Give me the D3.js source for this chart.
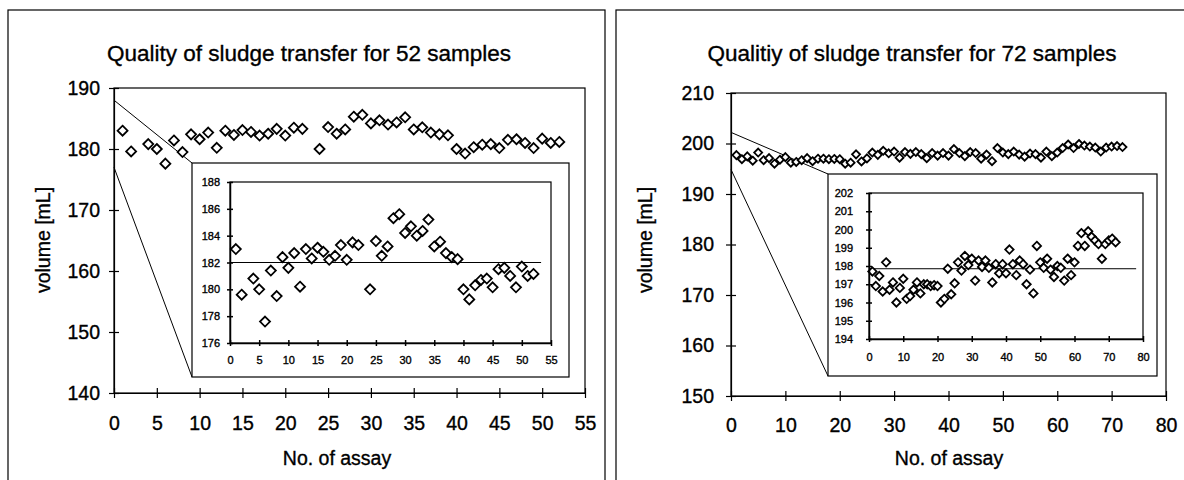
<!DOCTYPE html>
<html>
<head>
<meta charset="utf-8">
<script src="https://cdn.jsdelivr.net/npm/d3@7"></script>
<style>
  body { margin: 0; background: #fff; }
  svg text { font-family: Arial, "Liberation Sans", sans-serif; fill: #000; stroke: #000; stroke-width: 0.35px; }
</style>
</head>
<body>
<svg width="1184" height="480"></svg>
<script>
// ---- left chart: 52 samples ----
const leftTitle = "Quality of sludge transfer for 52 samples";
const leftAssay = [1, 2, 4, 5, 6, 7, 8, 9, 10, 11, 12, 13, 14, 15, 16, 17, 18, 19, 20, 21, 22,
  24, 25, 26, 27, 28, 29, 30, 31, 32, 33, 34, 35, 36, 37, 38, 39, 40, 41, 42, 43, 44, 45, 46,
  47, 48, 49, 50, 51, 52];
const leftVolume = [183.0, 179.6, 180.8, 180.0, 177.6, 181.4, 179.5, 182.4, 181.6, 182.7, 180.2,
  183.0, 182.3, 183.1, 182.8, 182.2, 182.5, 183.3, 182.2, 183.5, 183.3,
  180.0, 183.6, 182.5, 183.2, 185.3, 185.6, 184.2, 184.7, 184.0, 184.35, 185.2, 183.2, 183.55,
  182.7, 182.4, 182.25, 180.0, 179.25, 180.3, 180.7, 180.8, 180.15, 181.5, 181.6, 181.0,
  180.15, 181.7, 181.0, 181.15];
const leftMean = 182.0;
const leftMeanX = [0, 53.3];
const leftXTicks = [0, 5, 10, 15, 20, 25, 30, 35, 40, 45, 50, 55];
const leftYTicks = [140, 150, 160, 170, 180, 190];
const leftInsetYTicks = [176, 178, 180, 182, 184, 186, 188];
const leftZoom = [177, 188];   // y range the callout points at

// ---- right chart: 72 samples ----
const rightTitle = "Qualitiy of sludge transfer for 72 samples";
const rightAssay = d3.range(1, 73);
const rightVolume = [197.7, 196.9, 197.45, 196.6, 198.2, 196.7, 197.1, 196.0, 196.8, 197.3,
  196.2, 196.35, 196.7, 197.1, 196.5, 197.0, 197.0, 196.9, 196.95, 196.9,
  196.0, 196.2, 197.85, 196.45, 197.05, 198.2, 197.75, 198.55, 198.05, 198.4,
  197.2, 198.3, 197.95, 198.3, 197.9, 197.1, 198.1, 197.6, 198.1, 197.6,
  198.9, 198.1, 197.5, 198.3, 198.1, 197.0, 197.8, 196.5, 199.1, 198.2,
  197.9, 198.4, 197.8, 197.4, 198.0, 197.9, 197.2, 198.4, 197.5, 198.2,
  199.1, 199.8, 199.1, 199.9, 199.6, 199.4, 199.2, 198.4, 199.2, 199.4,
  199.5, 199.3];
const rightMean = 197.85;
const rightMeanX = [0, 78];
const rightXTicks = [0, 10, 20, 30, 40, 50, 60, 70, 80];
const rightYTicks = [150, 160, 170, 180, 190, 200, 210];
const rightInsetYTicks = [194, 195, 196, 197, 198, 199, 200, 201, 202];
const rightZoom = [194.85, 202.2];

const svg = d3.select("svg");

// diamond marker
const diamond = r => `M0,${-r}L${r},0L0,${r}L${-r},0Z`;

function crossTicks(g, horizontal, len) {
  g.selectAll(".tick line")
    .attr(horizontal ? "y1" : "x1", -len)
    .attr(horizontal ? "y2" : "x2", len);
}

function drawPanel(c) {
  const p = svg.append("g");

  // panel border
  p.append("rect")
    .attr("x", c.panel[0]).attr("y", c.panel[1])
    .attr("width", c.panel[2]).attr("height", c.panel[3])
    .attr("fill", "none").attr("stroke", "#000").attr("stroke-width", 1.2);

  p.append("text")
    .attr("x", c.titleX).attr("y", 61)
    .attr("text-anchor", "middle")
    .attr("font-size", 22.5)
    .text(c.title);

  // main scales
  const x = d3.scaleLinear().domain(c.xDomain).range([c.main[0], c.main[1]]);
  const y = d3.scaleLinear().domain(c.yDomain).range([c.main[3], c.main[2]]);

  p.append("rect")
    .attr("x", c.main[0]).attr("y", c.main[2])
    .attr("width", c.main[1] - c.main[0]).attr("height", c.main[3] - c.main[2])
    .attr("fill", "none").attr("stroke", "#000").attr("stroke-width", 1.2);

  // callout lines to inset box corners
  p.append("line")
    .attr("x1", x(0)).attr("y1", y(c.zoom[1]))
    .attr("x2", c.box[0]).attr("y2", c.box[2])
    .attr("stroke", "#000").attr("stroke-width", 1);
  p.append("line")
    .attr("x1", x(0)).attr("y1", y(c.zoom[0]))
    .attr("x2", c.box[0]).attr("y2", c.box[3])
    .attr("stroke", "#000").attr("stroke-width", 1);

  // main points
  p.append("g").selectAll("path")
    .data(c.assay)
    .join("path")
    .attr("transform", (d, i) => `translate(${x(d)},${y(c.volume[i])})`)
    .attr("d", diamond(c.r))
    .attr("fill", "#fff").attr("stroke", "#000").attr("stroke-width", 1.8);

  // main axes
  const gx = p.append("g")
    .attr("transform", `translate(0,${c.main[3]})`)
    .call(d3.axisBottom(x).tickValues(c.xTicks).tickSize(0).tickSizeOuter(0).tickPadding(c.xPad));
  crossTicks(gx, true, 5);
  const gy = p.append("g")
    .attr("transform", `translate(${c.main[0]},0)`)
    .call(d3.axisLeft(y).tickValues(c.yTicks).tickSize(0).tickSizeOuter(0).tickPadding(c.yPad));
  crossTicks(gy, false, 5);
  [gx, gy].forEach(g => {
    g.attr("font-size", 19.5).attr("font-family", null);
    g.selectAll("path, line").attr("stroke-width", 1.2);
  });

  p.append("text")
    .attr("x", c.xTitleX).attr("y", 465)
    .attr("text-anchor", "middle")
    .attr("font-size", 19.5)
    .text("No. of assay");
  p.append("text")
    .attr("transform", `translate(${c.yTitleX},240) rotate(-90)`)
    .attr("text-anchor", "middle")
    .attr("dy", "0.35em")
    .attr("font-size", 19.5)
    .text("volume [mL]");

  // inset
  p.append("rect")
    .attr("x", c.box[0]).attr("y", c.box[2])
    .attr("width", c.box[1] - c.box[0]).attr("height", c.box[3] - c.box[2])
    .attr("fill", "#fff").attr("stroke", "#000").attr("stroke-width", 1.2);

  const xi = d3.scaleLinear().domain(c.xDomain).range([c.inset[0], c.inset[1]]);
  const yi = d3.scaleLinear().domain(c.zoomDomain).range([c.inset[3], c.inset[2]]);

  p.append("rect")
    .attr("x", c.inset[0]).attr("y", c.inset[2])
    .attr("width", c.inset[1] - c.inset[0]).attr("height", c.inset[3] - c.inset[2])
    .attr("fill", "none").attr("stroke", "#000").attr("stroke-width", 1.2);

  p.append("line")
    .attr("x1", xi(c.meanX[0])).attr("x2", xi(c.meanX[1]))
    .attr("y1", yi(c.mean)).attr("y2", yi(c.mean))
    .attr("stroke", "#000").attr("stroke-width", 1);

  p.append("g").selectAll("path")
    .data(c.assay)
    .join("path")
    .attr("transform", (d, i) => `translate(${xi(d)},${yi(c.volume[i])})`)
    .attr("d", diamond(c.ri))
    .attr("fill", "#fff").attr("stroke", "#000").attr("stroke-width", 1.8);

  const gxi = p.append("g")
    .attr("transform", `translate(0,${c.inset[3]})`)
    .call(d3.axisBottom(xi).tickValues(c.xTicks).tickSize(0).tickSizeOuter(0).tickPadding(c.xiPad));
  crossTicks(gxi, true, 3);
  const gyi = p.append("g")
    .attr("transform", `translate(${c.inset[0]},0)`)
    .call(d3.axisLeft(yi).tickValues(c.insetYTicks).tickSize(0).tickSizeOuter(0).tickPadding(c.yiPad));
  crossTicks(gyi, false, 3);
  [gxi, gyi].forEach(g => {
    g.attr("font-size", 11).attr("font-family", null);
    g.selectAll("path, line").attr("stroke-width", 1.5);
  });
}

drawPanel({
  panel: [8, 10, 597, 480],
  title: leftTitle, titleX: 309,
  xDomain: [0, 55], yDomain: [140, 190],
  main: [114, 585, 88, 393],
  box: [192, 569, 163, 377],
  inset: [230, 551, 182, 343],
  zoomDomain: [176, 188], zoom: leftZoom,
  assay: leftAssay, volume: leftVolume,
  mean: leftMean, meanX: leftMeanX,
  xTicks: leftXTicks, yTicks: leftYTicks, insetYTicks: leftInsetYTicks,
  xPad: 23, yPad: 14, xiPad: 13, yiPad: 10,
  r: 5, ri: 5,
  xTitleX: 337, yTitleX: 43
});

drawPanel({
  panel: [616, 10, 600, 480],
  title: rightTitle, titleX: 912,
  xDomain: [0, 80], yDomain: [150, 210],
  main: [731, 1166, 93, 396],
  box: [828, 1157, 174, 376],
  inset: [869, 1143, 193, 339],
  zoomDomain: [194, 202], zoom: rightZoom,
  assay: rightAssay, volume: rightVolume,
  mean: rightMean, meanX: rightMeanX,
  xTicks: rightXTicks, yTicks: rightYTicks, insetYTicks: rightInsetYTicks,
  xPad: 22, yPad: 17, xiPad: 14, yiPad: 16,
  r: 4, ri: 4.2,
  xTitleX: 949, yTitleX: 645
});
</script>
</body>
</html>
